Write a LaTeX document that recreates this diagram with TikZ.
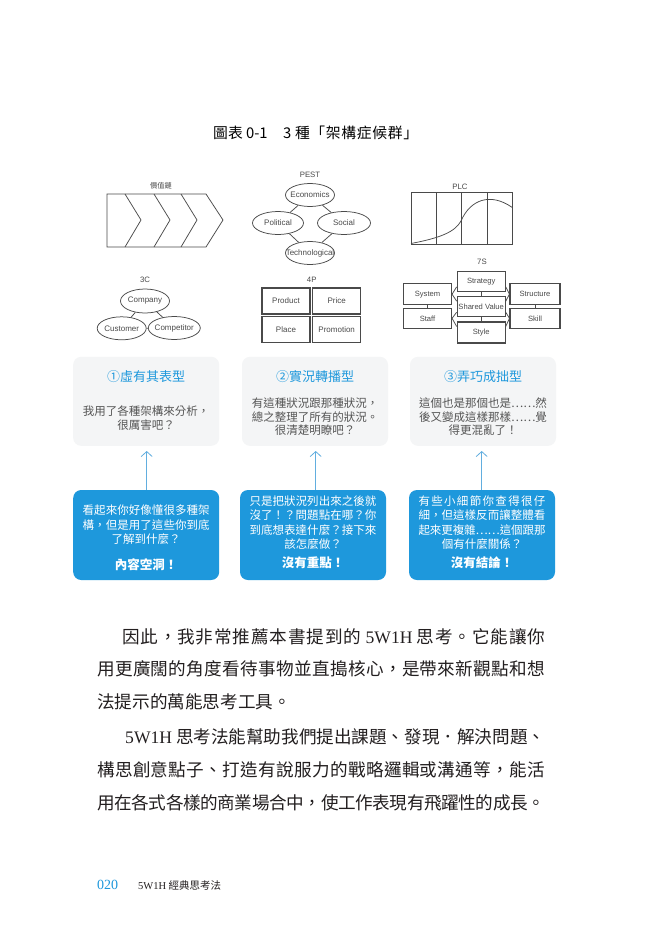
\documentclass[tikz,border=0pt]{standalone}
\usepackage{fontspec}
\setmainfont{Liberation Serif}
\setsansfont{Liberation Sans}
\newfontfamily\cjk{Noto Sans CJK TC}
\usetikzlibrary{arrows.meta, shapes.geometric}
\definecolor{ink}{HTML}{4A4A4A}
\definecolor{sky}{HTML}{1E98DC}
\definecolor{skyl}{HTML}{62AEDF}
\definecolor{mist}{HTML}{F4F5F6}
\definecolor{slate}{HTML}{555555}
\definecolor{prose}{HTML}{231F20}

% glue between CJK characters, so that a line can be spread to a width
\makeatletter
\newXeTeXintercharclass\cjkcls
\def\cjkrange#1#2{\count@=#1
  \loop\ifnum\count@<#2 \XeTeXcharclass\count@=\cjkcls \advance\count@\@ne\repeat}
\cjkrange{"3000}{"3040}
\cjkrange{"4E00}{"A000}
\cjkrange{"FF00}{"FFF0}
\XeTeXcharclass"2026=\cjkcls
\makeatother
\XeTeXinterchartokenstate=1
\XeTeXinterchartoks\cjkcls\cjkcls={\hskip 0pt plus 4pt minus 1pt\relax}
\newcommand\ovtxt[1]{\makebox[0pt]{#1}}

\begin{document}
\begin{tikzpicture}[x=1pt, y=-1pt,
  link/.style={draw=ink, line width=0.75pt},
  lbl/.style={text=ink, font=\sffamily\fontsize{7.8}{9}\selectfont, inner sep=0pt},
  oval/.style={ellipse, draw=ink, line width=0.75pt, inner sep=0pt,
    minimum height=23pt, text=ink, font=\sffamily\fontsize{8}{9}\selectfont},
  pbox/.style={rectangle, draw=ink, line width=1.3pt, minimum width=48pt,
    minimum height=26pt, inner sep=0pt, text=ink, font=\sffamily\fontsize{8}{9}\selectfont},
  sbox/.style={rectangle, draw=ink, line width=1.1pt, minimum width=48pt,
    minimum height=20pt, inner sep=0pt, text=ink, font=\sffamily\fontsize{7.6}{9}\selectfont},
  card/.style={rectangle, rounded corners=8pt, fill=mist, minimum width=146pt,
    minimum height=89pt, inner sep=0pt},
  note/.style={rectangle, rounded corners=8pt, fill=sky, minimum width=146pt,
    minimum height=90pt, inner sep=0pt},
  head/.style={text=sky, font=\cjk\fontsize{13}{15}\selectfont, inner sep=0pt},
  gtxt/.style={text=slate, font=\cjk\fontsize{11.5}{13.5}\selectfont, align=center, inner sep=0pt},
  wtxt/.style={text=white, font=\cjk\fontsize{11.5}{14.5}\selectfont, align=center, inner sep=0pt},
  punch/.style={text=white, font=\cjk\bfseries\fontsize{12.5}{15}\selectfont, inner sep=0pt},
  uparr/.style={draw=skyl, line width=0.8pt, -{Straight Barb[length=5pt, width=11pt]}},
  body/.style={text=prose, font=\cjk\fontsize{17.6}{20}\selectfont, anchor=west, inner sep=0pt},
]
\fill[white] (0,0) rectangle (663,932);

% title
\node[text=black, font=\cjk\fontsize{14.8}{17}\selectfont, anchor=west, inner sep=0pt]
  (ttla) at (213,133) {圖表 0-1};
\node[text=black, font=\cjk\fontsize{14.8}{17}\selectfont, anchor=west, inner sep=0pt]
  (ttlb) at (283,133) {\makebox[135pt][s]{3 種「架構症候群」}};

% value chain
\node[lbl, font=\cjk\fontsize{7.2}{9}\selectfont] (vclbl) at (161,186) {價值鏈};
\draw[link] (107,194) -- (206,194) -- (223,220) -- (206,247) -- (107,247) -- cycle;
\foreach \x in {125,154,181}
  \draw[link] (\x,194) -- (\x+16,220) -- (\x,247);

% PEST
\node[lbl] (pestlbl) at (310,175) {PEST};
\node[oval, minimum width=49pt] (eco) at (310,195) {\ovtxt{Economics}};
\node[oval, minimum width=51pt] (pol) at (278,223) {\ovtxt{Political}};
\node[oval, minimum width=53pt] (soc) at (344,223) {\ovtxt{Social}};
\node[oval, minimum width=49pt] (tec) at (310,253) {\ovtxt{Technological}};
\draw[link] (eco) -- (pol);
\draw[link] (eco) -- (soc);
\draw[link] (pol) -- (tec);
\draw[link] (soc) -- (tec);

% PLC
\node[lbl] (plclbl) at (460,187) {PLC};
\draw[link] (411,192) rectangle (512,244);
\foreach \x in {436,461,487}
  \draw[link] (\x,192) -- (\x,244);
\draw[link] (411,243.5) .. controls (440,238) and (455,232) .. (461,221)
  .. controls (470,200) and (490,192) .. (512,207.3);

% 3C
\node[lbl] (tclbl) at (145,280) {3C};
\node[oval, minimum width=49pt, minimum height=24pt] (cmp) at (145,301) {\ovtxt{Company}};
\node[oval, minimum width=49pt] (cus) at (121.7,328.3) {\ovtxt{Customer}};
\node[oval, minimum width=52pt] (cpt) at (174.3,328) {\ovtxt{Competitor}};
\draw[link] (cmp) -- (cus);
\draw[link] (cmp) -- (cpt);
\draw[link] (cus) -- (cpt);

% 4P
\node[lbl] (fplbl) at (311.7,280) {4P};
\node[pbox] (prod) at (286,301) {Product};
\node[pbox] (price) at (336.7,301) {Price};
\node[pbox] (place) at (286,329.3) {Place};
\node[pbox] (promo) at (336.7,329.3) {Promotion};

% 7S
\node[lbl] (sslbl) at (482,262) {7S};
\node[sbox] (strat) at (481.2,281.3) {Strategy};
\node[sbox] (shval) at (481.2,306.7) {\ovtxt{Shared Value}};
\node[sbox, minimum height=21pt] (style) at (481.2,332.5) {Style};
\node[sbox, minimum height=21pt] (systm) at (427.5,294.2) {System};
\node[sbox] (staff) at (427.5,318.3) {Staff};
\node[sbox, minimum width=50pt, minimum height=21pt] (struc) at (535,294.2) {Structure};
\node[sbox, minimum width=50pt] (skill) at (535,318.3) {Skill};
\draw[link] (strat) -- (shval);
\draw[link] (shval) -- (style);
\draw[link] (systm) -- (staff);
\draw[link] (struc) -- (skill);
\draw[link] ([yshift=5pt]strat.south west) -- (systm.east) -- ([yshift=-5pt]shval.north west);
\draw[link] ([yshift=5pt]shval.south west) -- (staff.east) -- ([yshift=-5pt]style.north west);
\draw[link] ([yshift=5pt]strat.south east) -- (struc.west) -- ([yshift=-5pt]shval.north east);
\draw[link] ([yshift=5pt]shval.south east) -- (skill.west) -- ([yshift=-5pt]style.north east);

% symptom cards
\node[card] (carda) at (146.2,401.3) {};
\node[card] (cardb) at (315,401.3) {};
\node[card] (cardc) at (483,401.3) {};
\node[head] (heada) at (146.2,376.7) {①虛有其表型};
\node[head] (headb) at (315,376.7) {②實況轉播型};
\node[head] (headc) at (483,376.7) {③弄巧成拙型};
\node[gtxt] (txta) at (146.2,418) {我用了各種架構來分析，\\很厲害吧？};
\node[gtxt] (txtb) at (315,416.7) {有這種狀況跟那種狀況，\\總之整理了所有的狀況。\\很清楚明瞭吧？};
\node[gtxt] (txtc) at (483,416.7) {這個也是那個也是……然\\後又變成這樣那樣……覺\\得更混亂了！};

% verdict notes
\node[note] (notea) at (146.2,535) {};
\node[note] (noteb) at (313,535) {};
\node[note] (notec) at (482,535) {};
\node[wtxt] (ntxa) at (146.2,525) {\makebox[127pt][s]{看起來你好像懂很多種架}\\
  \makebox[127pt][s]{構，但是用了這些你到底}\\了解到什麼？};
\node[wtxt] (ntxb) at (313,522.6) {\makebox[127pt][s]{只是把狀況列出來之後就}\\
  \makebox[127pt][s]{沒了！？問題點在哪？你}\\\makebox[127pt][s]{到底想表達什麼？接下來}\\該怎麼做？};
\node[wtxt] (ntxc) at (482,522.6) {\makebox[127pt][s]{有些小細節你查得很仔}\\
  \makebox[127pt][s]{細，但這樣反而讓整體看}\\\makebox[127pt][s]{起來更複雜……這個跟那}\\個有什麼關係？};
\node[punch] (puna) at (146.2,564.3) {內容空洞！};
\node[punch] (punb) at (313,563) {沒有重點！};
\node[punch] (punc) at (482,563) {沒有結論！};

\coordinate (tipa) at (146.7,451);
\coordinate (tipb) at (315.7,451);
\coordinate (tipc) at (481.7,451);
\draw[uparr] (notea.north -| tipa) -- (tipa);
\draw[uparr] (noteb.north -| tipb) -- (tipb);
\draw[uparr] (notec.north -| tipc) -- (tipc);

% page text
\node[body] (pa1) at (122,637) {\makebox[423pt][s]{因此，我非常推薦本書提到的 {\rmfamily 5W1H} 思考。它能讓你}};
\node[body] (pa2) at (97,669) {\makebox[448pt][s]{用更廣闊的角度看待事物並直搗核心，是帶來新觀點和想}};
\node[body] (pa3) at (97,702) {法提示的萬能思考工具。};
\node[body] (pb1) at (125,737) {\makebox[420pt][s]{{\rmfamily 5W1H} 思考法能幫助我們提出課題、發現．解決問題、}};
\node[body] (pb2) at (97,770) {\makebox[448pt][s]{構思創意點子、打造有說服力的戰略邏輯或溝通等，能活}};
\node[body] (pb3) at (97,803) {\makebox[448pt][s]{用在各式各樣的商業場合中，使工作表現有飛躍性的成長。}};

% footer
\node[text=sky, font=\rmfamily\fontsize{14}{16}\selectfont, anchor=west, inner sep=0pt]
  (folio) at (97,885) {020};
\node[text=prose, font=\cjk\fontsize{10.5}{12}\selectfont, anchor=west, inner sep=0pt]
  (runhd) at (138,885) {{\rmfamily 5W1H} 經典思考法};
\end{tikzpicture}
\end{document}
